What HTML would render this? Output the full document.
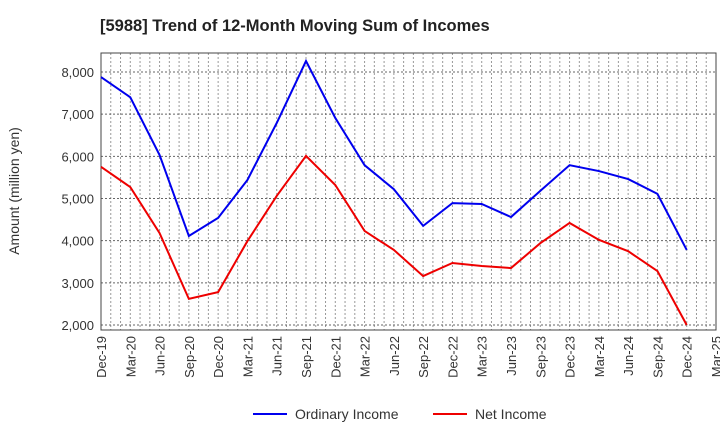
<!DOCTYPE html>
<html><head><meta charset="utf-8"><style>
body{margin:0;background:#fff;font-family:"Liberation Sans",sans-serif;}
text{font-family:"Liberation Sans",sans-serif;}
</style></head><body>
<svg id="chart" width="720" height="440" xmlns="http://www.w3.org/2000/svg">
<text x="100" y="31" font-size="16.5" font-weight="bold" fill="#222">[5988]  Trend of 12-Month Moving Sum of Incomes</text>
<text transform="translate(19,191) rotate(-90)" text-anchor="middle" font-size="14" fill="#333">Amount (million yen)</text>
<g id="grid"></g><g id="axes"></g><g id="series"></g>
<g>
<line x1="253" y1="414" x2="287" y2="414" stroke="#0000ee" stroke-width="2"/>
<text x="295" y="419" font-size="14" fill="#333">Ordinary Income</text>
<line x1="433" y1="414" x2="467" y2="414" stroke="#ee0000" stroke-width="2"/>
<text x="475" y="419" font-size="14" fill="#333">Net Income</text>
</g>
</svg>
<script>
const categories=["Dec-19","Mar-20","Jun-20","Sep-20","Dec-20","Mar-21","Jun-21","Sep-21","Dec-21","Mar-22","Jun-22","Sep-22","Dec-22","Mar-23","Jun-23","Sep-23","Dec-23","Mar-24","Jun-24","Sep-24","Dec-24","Mar-25"];
const ordinaryIncome=[7880,7400,6030,4110,4540,5440,6790,8260,6910,5790,5220,4350,4890,4870,4560,5180,5790,5650,5460,5110,3780];
const netIncome=[5750,5270,4180,2620,2780,3990,5060,6010,5320,4230,3780,3160,3470,3400,3350,3940,4420,4020,3750,3280,2000];
const yTicks=[2000,3000,4000,5000,6000,7000,8000];
const L=101,R=716,T=53,B=330;
const x=i=>L+(R-L)*i/21;
const y=v=>325-(v-2000)*42.17/1000;
const NS="http://www.w3.org/2000/svg";
function mk(tag,attrs,parent){const e=document.createElementNS(NS,tag);for(const k in attrs)e.setAttribute(k,attrs[k]);parent.appendChild(e);return e;}
const grid=document.getElementById('grid'),axes=document.getElementById('axes'),series=document.getElementById('series');
for(let m=1;m<63;m++){const gx=L+(R-L)*m/63;const l=mk('line',{x1:gx,x2:gx,y1:T,y2:B,stroke:'#999','stroke-width':1,'stroke-dasharray':'2,2'},grid);

}
yTicks.forEach(v=>{const l=mk('line',{x1:L,x2:R,y1:y(v),y2:y(v),stroke:'#666','stroke-width':1,'stroke-dasharray':'2,2'},grid);


const t=mk('text',{x:L-7,y:y(v)+5,'text-anchor':'end','font-size':13,fill:'#333'},axes);t.textContent=v.toLocaleString('en-US');

});
const fr=mk('rect',{x:L,y:T,width:R-L,height:B-T,fill:'none',stroke:'#444','stroke-width':1},axes);


categories.forEach((c,i)=>{const t=mk('text',{transform:`translate(${x(i)+5},${B+6}) rotate(-90)`,'text-anchor':'end','font-size':13,fill:'#333'},axes);t.textContent=c;

});
function line(data,color,name){const p=mk('polyline',{points:data.map((v,i)=>x(i)+','+y(v)).join(' '),fill:'none',stroke:color,'stroke-width':2},series);

}
line(ordinaryIncome,'#0000ee','ordinary-income-line');
line(netIncome,'#ee0000','net-income-line');
</script>
</body></html>
